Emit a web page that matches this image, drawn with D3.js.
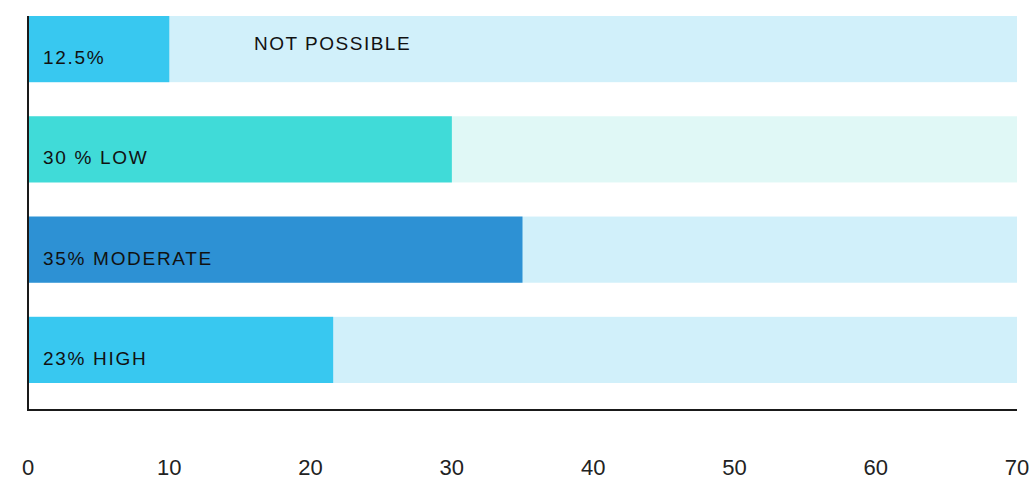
<!DOCTYPE html>
<html>
<head>
<meta charset="utf-8">
<script src="https://cdn.jsdelivr.net/npm/d3@7"></script>
<style>
  body { margin: 0; background: #fff; }
  svg text { font-family: "Liberation Sans", Arial, sans-serif; }
</style>
</head>
<body>
<svg id="chart" width="1034" height="482"></svg>
<script>
// chart values
const categories = ["NOT POSSIBLE", "LOW", "MODERATE", "HIGH"];
const barValues = [10, 30, 35, 21.6];
const barLabels = ["12.5%", "30 % LOW", "35% MODERATE", "23% HIGH"];
const maxValue = 70;
const tickValues = [0, 10, 20, 30, 40, 50, 60, 70];
const barColors = ["#38c8f0", "#40dbd8", "#2d91d4", "#38c8f0"];
const trackColors = ["#d1f0fa", "#e0f8f6", "#d1f0fa", "#d1f0fa"];
const noteText = "NOT POSSIBLE";
const noteValue = 16;

const svg = d3.select("#chart");

const x = d3.scaleLinear().domain([0, maxValue]).range([28, 1017]);
const y = d3.scaleBand().domain(categories).range([16, 383]).paddingInner(0.34).paddingOuter(0);

const rows = categories.map((c, i) => ({
  cat: c, value: barValues[i], label: barLabels[i], color: barColors[i], track: trackColors[i]
}));

// background tracks (full width)
svg.selectAll(".track")
  .data(rows)
  .enter().append("rect")
  .attr("class", "track")
  .attr("x", x(0))
  .attr("y", d => y(d.cat))
  .attr("width", x(maxValue) - x(0))
  .attr("height", y.bandwidth())
  .attr("fill", d => d.track);

// value bars
svg.selectAll(".bar")
  .data(rows)
  .enter().append("rect")
  .attr("class", "bar")
  .attr("x", x(0))
  .attr("y", d => y(d.cat))
  .attr("width", d => x(d.value) - x(0))
  .attr("height", y.bandwidth())
  .attr("fill", d => d.color);

// labels inside bars
svg.selectAll(".lbl")
  .data(rows)
  .enter().append("text")
  .attr("class", "lbl")
  .attr("x", x(0) + 15)
  .attr("y", d => y(d.cat) + 48)
  .attr("font-size", 19)
  .attr("letter-spacing", "1.7px")
  .attr("fill", "#111")
  .text(d => d.label);

svg.append("text")
  .attr("x", x(noteValue))
  .attr("y", y(categories[0]) + 34)
  .attr("font-size", 19)
  .attr("letter-spacing", "1.5px")
  .attr("fill", "#111")
  .text(noteText);

// axes lines
svg.append("line")
  .attr("x1", x(0)).attr("x2", x(0))
  .attr("y1", 16).attr("y2", 411)
  .attr("stroke", "#1a1a1a").attr("stroke-width", 2);

svg.append("line")
  .attr("x1", x(0) - 1).attr("x2", x(maxValue))
  .attr("y1", 410).attr("y2", 410)
  .attr("stroke", "#1a1a1a").attr("stroke-width", 2);

// tick labels
svg.selectAll(".tick")
  .data(tickValues)
  .enter().append("text")
  .attr("class", "tick")
  .attr("x", d => x(d))
  .attr("y", 475)
  .attr("text-anchor", "middle")
  .attr("font-size", 22)
  .attr("fill", "#222")
  .text(d => d);
</script>
</body>
</html>
